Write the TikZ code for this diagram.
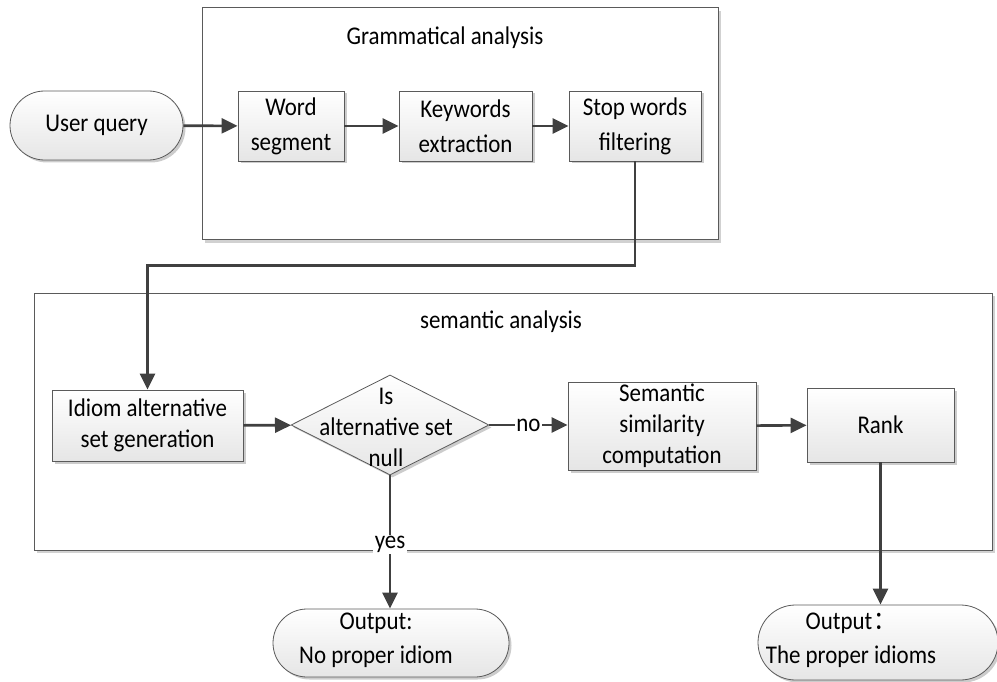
\documentclass[tikz,border=0pt]{standalone}
\usepackage{fontspec}
\setmainfont{Carlito}[FakeStretch=0.9]
\newfontfamily\cjk{Noto Sans CJK SC}[FakeStretch=0.9]
\usetikzlibrary{shapes.geometric,shapes.misc,arrows.meta,shadows}
\definecolor{ln}{HTML}{404040}
\definecolor{bd}{HTML}{5A5A5A}
\begin{document}
\begin{tikzpicture}[x=1pt,y=-1pt,
  font=\fontsize{25.5}{35}\selectfont,
  container/.style={draw=bd, line width=1pt, fill=white, inner sep=0pt,
    drop shadow={shadow xshift=3pt, shadow yshift=-3pt, fill=black!18, opacity=1}},
  proc/.style={draw=bd, line width=0.8pt, top color=white, bottom color=black!10,
    drop shadow={shadow xshift=2.5pt, shadow yshift=-2.5pt, fill=black!20, opacity=1},
    align=center, inner sep=0pt},
  term/.style={proc, rounded rectangle, rounded rectangle arc length=180},
  decision/.style={proc, diamond, aspect=2},
  txt/.style={align=center, inner sep=0pt},
  arr/.style={draw=ln, line width=2.6pt, -{Triangle[length=16pt,width=15pt]}},
  lbl/.style={fill=white, inner sep=1.5pt, text=black}]
\useasboundingbox (0,0) rectangle (997,682);

% containers
\node[container, minimum width=516, minimum height=232] (gram) at (460,124) {};
\node[container, minimum width=958, minimum height=257] (sem) at (513,421.5) {};
\node[txt] (gt) at (445,38) {Grammatical analysis};
\node[txt] (st) at (501,322) {semantic analysis};

% top row
\node[term, minimum width=173, minimum height=69] (uq) at (96.5,125.5) {User query};
\node[proc, minimum width=106, minimum height=70] (ws) at (291,126) {Word\\segment};
\node[proc, minimum width=133, minimum height=70] (ke) at (465.5,126) {Keywords\\extraction};
\node[proc, minimum width=132, minimum height=70] (sw) at (635,126) {Stop words\\filtering};

% semantic row
\node[proc, minimum width=191, minimum height=71, font=\fontsize{25.5}{31}\selectfont] (ia) at (147.5,425.5) {Idiom alternative\\set generation};
\node[decision, minimum width=198, minimum height=100] (dia) at (390,425) {};
\node[txt, font=\fontsize{25.5}{31}\selectfont] (diat) at (386,427) {Is\\alternative set\\null};
\node[proc, minimum width=188, minimum height=88, font=\fontsize{25.5}{31}\selectfont] (ss) at (662,426) {Semantic\\similarity\\computation};
\node[proc, minimum width=147, minimum height=74] (rk) at (880.5,425) {Rank};

% outputs
\node[term, minimum width=236, minimum height=68] (o1) at (391,643) {};
\node[txt, font=\fontsize{25.5}{34}\selectfont] (o1t) at (376,640) {Output:\\No proper idiom};
\node[term, minimum width=240, minimum height=75] (o2) at (878,642.5) {};
\node[txt, font=\fontsize{25.5}{34}\selectfont] (o2t) at (851,640) {Output\kern1pt{\cjk ：}\\The proper idioms};

% connectors
\draw[arr] (uq) -- (ws);
\draw[arr] (ws) -- (ke);
\draw[arr] (ke) -- (sw);
\draw[arr] (sw.south) -- ++(0,104) -| (ia.north);
\draw[arr] (ia) -- (dia);
\draw[arr] (dia.east) -- node[lbl]{no} (dia.east -| ss.west);
\draw[arr] (ss) -- (rk);
\draw[arr] (dia.south) -- node[lbl, pos=0.52]{yes} (dia.south |- o1.north);
\draw[arr] (rk.south) -- (rk.south |- o2.north);
\end{tikzpicture}
\end{document}
